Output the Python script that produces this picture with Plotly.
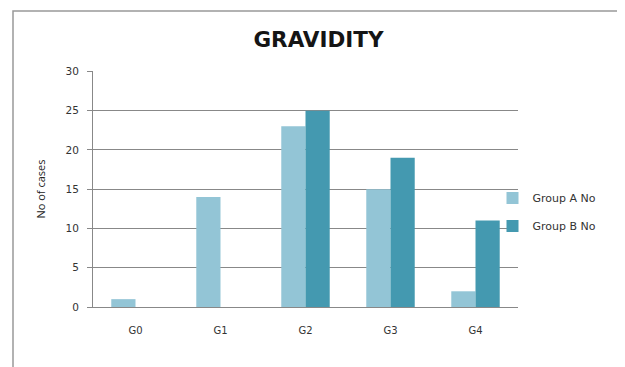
import plotly.graph_objects as go

categories = ["G0", "G1", "G2", "G3", "G4"]
group_a = [1, 14, 23, 15, 2]
group_b = [0, 0, 25, 19, 11]
y_ticks = [0, 5, 10, 15, 20, 25, 30]

fig = go.Figure()
fig.add_trace(go.Bar(x=categories, y=group_a, name="Group A No", legendgroup="a",
                     marker=dict(color="#93C5D6", line=dict(width=0))))
fig.add_trace(go.Bar(x=categories, y=group_b, name="Group B No", legendgroup="b",
                     marker=dict(color="#4499B0", line=dict(width=0))))

fig.update_layout(
    width=625, height=367,
    margin=dict(l=85, r=115, t=63, b=68, autoexpand=False),
    paper_bgcolor="white", plot_bgcolor="white",
    barmode="group", bargap=0.43, bargroupgap=0,
    title=dict(text="<b>GRAVIDITY</b>", x=310.5/625, xanchor="center", y=1-31.5/367, yanchor="middle",
               font=dict(family="DejaVu Sans", size=21.5, color="#151515")),
    font=dict(family="DejaVu Sans", size=10, color="#333"),
    showlegend=True,
    legend=dict(x=0.94, y=(307-212)/236, xanchor="left", yanchor="middle", tracegroupgap=9,
                font=dict(family="DejaVu Sans", size=11, color="#333"), itemwidth=30,
                bgcolor="rgba(0,0,0,0)"),
    xaxis=dict(showgrid=False, showline=True, linecolor="#888", linewidth=1, ticks="",
               ticklabelstandoff=14, tickfont=dict(size=10)),
    yaxis=dict(range=[0, 30.05], tickvals=y_ticks, showgrid=True, gridcolor="#888", gridwidth=1,
               showline=True, linecolor="#888", linewidth=1, ticks="outside", ticklen=5, tickcolor="#888",
               zeroline=False, tickfont=dict(size=10.5), ticklabelstandoff=6,
               title=dict(text="No of cases", font=dict(family="Open Sans", size=11, color="#222"), standoff=17)),
    shapes=[dict(type="rect", xref="paper", yref="paper", x0=-80/425, x1=530/425, y0=-0.5, y1=(307-11)/236,
                 line=dict(color="#999", width=1.5), fillcolor="rgba(0,0,0,0)", layer="below")],
)

fig.write_html("out.html")
